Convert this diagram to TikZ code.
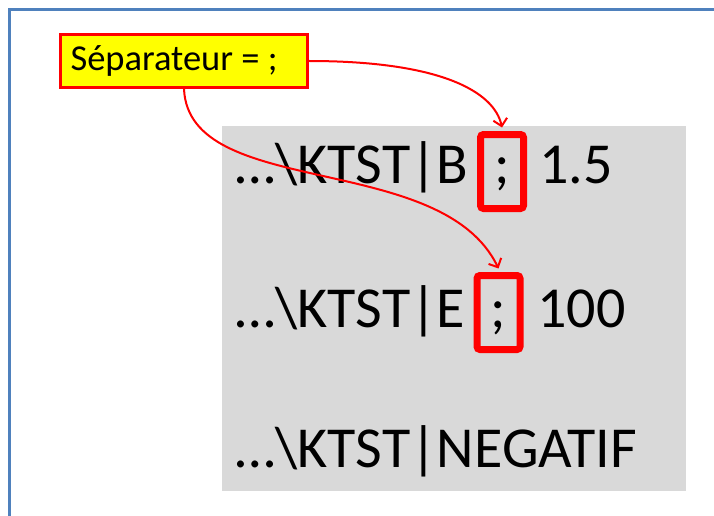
\documentclass[tikz,border=0pt]{standalone}
\usepackage{fontspec}
\setmainfont{Carlito}
\usetikzlibrary{arrows.meta,calc}
\definecolor{frameblue}{RGB}{79,129,189}
\definecolor{boxgray}{RGB}{217,217,217}
\definecolor{sepyellow}{RGB}{255,255,0}
\definecolor{mred}{RGB}{255,0,0}
\tikzset{
  bigtext/.style={inner sep=0pt, anchor=base west, font=\fontsize{58}{70}\selectfont},
  semibox/.style={draw=mred, line width=7pt, rounded corners=3pt, inner sep=0pt, anchor=base,
    minimum width=43pt, font=\fontsize{58}{70}\selectfont},
  seplabel/.style={draw=mred, line width=3pt, fill=sepyellow, inner xsep=10pt, inner ysep=0pt,
    minimum height=53pt, font=\fontsize{36.5}{44}\selectfont},
  callout/.style={draw=mred, line width=2pt, -{Straight Barb[length=7pt,width=14pt,line width=2pt]}}
}
\begin{document}
\begin{tikzpicture}[x=1pt,y=-1pt]
\useasboundingbox (0,0) rectangle (714,516);
\fill[white] (0,0) rectangle (714,516);
% frame
\draw[frameblue, line width=2.5pt] (9.5,516) -- (9.5,9.5) -- (714,9.5);
% gray panel
\fill[boxgray] (222,126) rectangle (686,491);
% yellow label
\node[seplabel] (sep) at (184,61) {\makebox[227pt][l]{Séparateur = ;}};
% line 1
\node[bigtext] (l1a) at (235,183) {…\textbackslash KTST|B};
\node[semibox, text height=48.5pt, text depth=25.5pt] (sc1) at (502,183) {;};
\node[bigtext] (l1b) at (539,183) {1.5};
% line 2
\node[bigtext] (l2a) at (235,327) {…\textbackslash KTST|E};
\node[semibox, text height=51.5pt, text depth=22.5pt] (sc2) at (498.5,327) {;};
\node[bigtext] (l2b) at (537,327) {100};
% line 3
\node[bigtext] (l3) at (235,467) {…\textbackslash KTST|NEGATIF};
% arrows
\draw[callout] (sep.east) .. controls ($(sep.east)+(130,0)$) and ($(sc1.north)+(-8,-40)$) .. ($(sc1.north)+(0,-3.5)$);
\draw[callout] (sep.south) .. controls ($(sep.south)+(5,111)$) and ($(sc2.north)+(-57,-122)$) .. ($(sc2.north)+(0,-3.5)$);
\end{tikzpicture}
\end{document}
